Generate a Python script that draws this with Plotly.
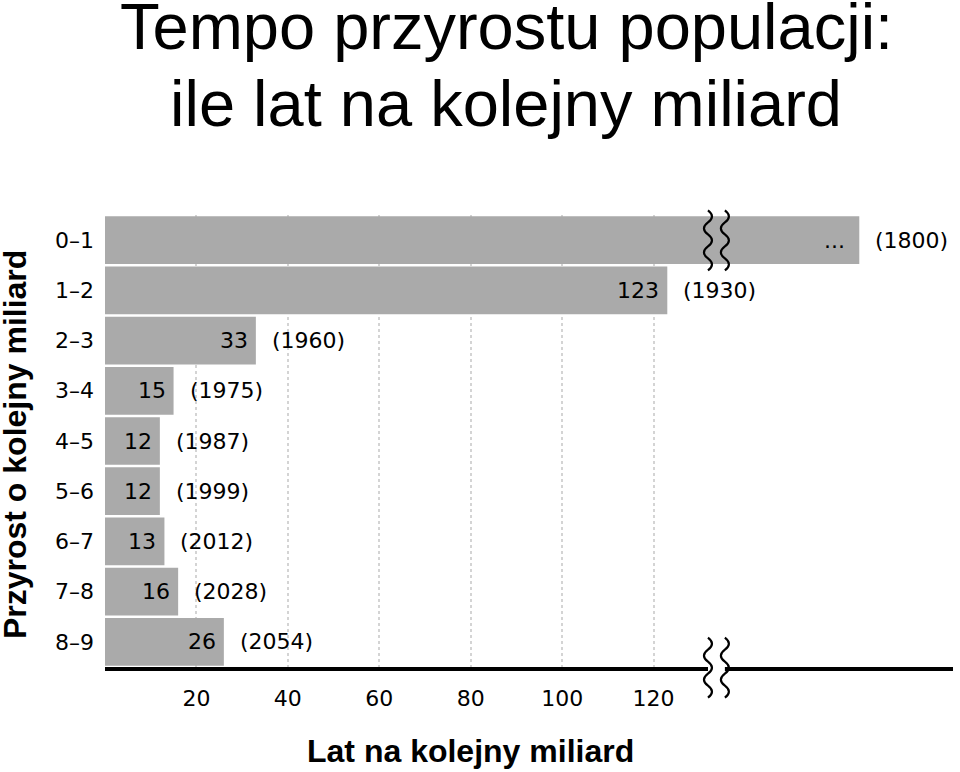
import plotly.graph_objects as go

# ---- data ----
categories = ["0–1", "1–2", "2–3", "3–4", "4–5", "5–6", "6–7", "7–8", "8–9"]
bar_lengths = [165, 123, 33, 15, 12, 12, 13, 16, 26]   # first bar is shown broken
value_labels = ["...", "123", "33", "15", "12", "12", "13", "16", "26"]
year_labels = ["(1800)", "(1930)", "(1960)", "(1975)", "(1987)", "(1999)", "(2012)", "(2028)", "(2054)"]
x_ticks = [20, 40, 60, 80, 100, 120]
x_max = 185.5
break_at = [131.9, 135.6]

W, H = 960, 772
L, R, T, B = 105, 7, 214.5, 104.7
PW = W - L - R
PH = H - T - B

def px_x(px):
    return (px - L) / PW

def px_y(py):
    return (H - B - py) / PH

tick_font = dict(family="DejaVu Sans", size=22, color="black")

fig = go.Figure()
fig.add_trace(go.Bar(
    x=bar_lengths, y=categories, orientation="h",
    marker=dict(color="#aaaaaa", line=dict(width=0)),
    hoverinfo="skip",
))

annotations = []
for cat, ln, vl, yl in zip(categories, bar_lengths, value_labels, year_labels):
    annotations.append(dict(x=ln, y=cat, xref="x", yref="y", text=vl, showarrow=False,
                            xanchor="right", xshift=-6 if vl != "..." else -12, font=tick_font))
    annotations.append(dict(x=ln, y=cat, xref="x", yref="y", text=yl, showarrow=False,
                            xanchor="left", xshift=14, font=tick_font))

# titles
title_font = dict(family="Liberation Sans", size=65, color="black")
annotations.append(dict(x=px_x(506), y=px_y(26), xref="paper", yref="paper",
                        text="Tempo przyrostu populacji:", showarrow=False,
                        xanchor="center", yanchor="middle", font=title_font))
annotations.append(dict(x=px_x(506), y=px_y(103), xref="paper", yref="paper",
                        text="ile lat na kolejny miliard", showarrow=False,
                        xanchor="center", yanchor="middle", font=title_font))
axis_font = dict(family="Liberation Sans", size=32, color="black")
annotations.append(dict(x=px_x(470), y=px_y(751), xref="paper", yref="paper",
                        text="<b>Lat na kolejny miliard</b>", showarrow=False,
                        xanchor="center", yanchor="middle", font=axis_font))
annotations.append(dict(x=px_x(15), y=px_y(445), xref="paper", yref="paper",
                        text="<b>Przyrost o kolejny miliard</b>", showarrow=False,
                        textangle=-90, xanchor="center", yanchor="middle", font=axis_font))

# axis break symbols (wavy lines)
def wave_path(h=60, n=5, a=4):
    seg = h / n
    p = f"M 0,{-h/2}"
    for i in range(n):
        y0 = -h / 2 + seg * i
        cx = 2 * a if i % 2 == 0 else -2 * a
        p += f" Q {cx},{y0 + seg/2} 0,{y0 + seg}"
    return p

shapes = []
# white gap on axis line between the two waves
shapes.append(dict(type="rect", xref="x", yref="paper", x0=break_at[0], x1=break_at[1],
                   y0=px_y(672), y1=px_y(664), fillcolor="white", line=dict(width=0), layer="above"))
for bx in break_at:
    for cy in (240, 668):
        shapes.append(dict(type="path", xref="x", yref="paper",
                           xsizemode="pixel", ysizemode="pixel",
                           xanchor=bx, yanchor=px_y(cy),
                           path=wave_path(), line=dict(color="black", width=2.2),
                           layer="above"))

fig.update_layout(
    width=W, height=H,
    margin=dict(l=L, r=R, t=T, b=B, pad=0),
    paper_bgcolor="white", plot_bgcolor="white",
    showlegend=False, bargap=0.05,
    annotations=annotations, shapes=shapes,
    xaxis=dict(range=[0, x_max], tickvals=x_ticks, ticktext=[str(v) for v in x_ticks],
               showgrid=True, gridcolor="#d4d4d4", griddash="dot", gridwidth=2,
               showline=True, linecolor="black", linewidth=4, zeroline=False,
               ticks="", ticklabelstandoff=9, tickfont=tick_font, fixedrange=True),
    yaxis=dict(autorange="reversed", showgrid=False, zeroline=False, showline=False,
               ticks="", ticklabelstandoff=10, tickfont=tick_font, fixedrange=True),
)

fig.write_html("out.html")
